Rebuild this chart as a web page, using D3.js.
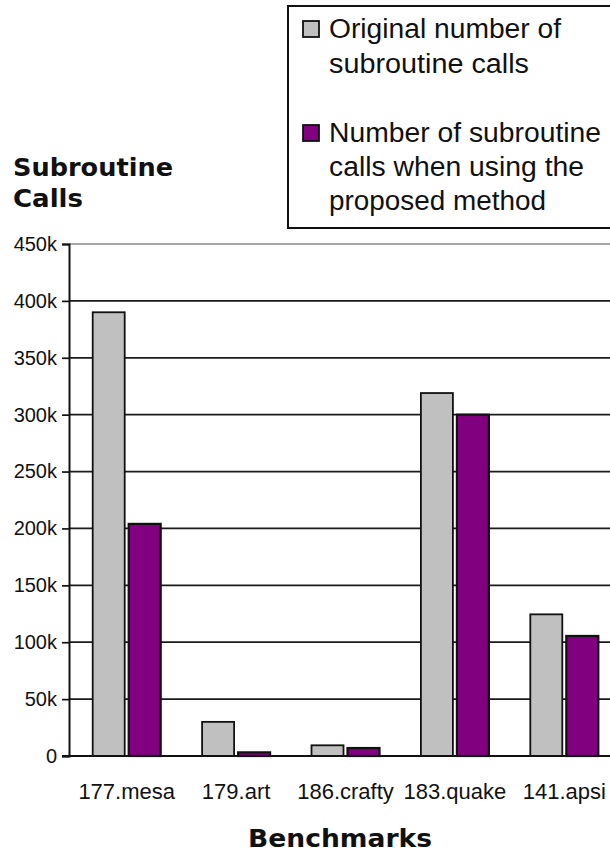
<!DOCTYPE html>
<html>
<head>
<meta charset="utf-8">
<script src="https://cdn.jsdelivr.net/npm/d3@7"></script>
<style>
  html, body { margin: 0; padding: 0; background: #fff; }
  svg { display: block; font-family: "Liberation Sans", Arial, sans-serif; }
</style>
</head>
<body>
<svg id="chart" width="610" height="853"></svg>
<script>
const categories = ["177.mesa", "179.art", "186.crafty", "183.quake", "141.apsi"];
const originalCalls = [390000, 30000, 9400, 319000, 124500];
const proposedCalls = [204000, 3200, 7000, 300000, 105500];
const seriesNames = ["Original number of subroutine calls", "Number of subroutine calls when using the proposed method"];
const legendLines = [["Original number of", "subroutine calls"], ["Number of subroutine", "calls when using the", "proposed method"]];
const yTicks = [0, 50000, 100000, 150000, 200000, 250000, 300000, 350000, 400000, 450000];
const seriesColors = ["#c0c0c0", "#800080"];

const svg = d3.select("#chart");

const x = d3.scaleBand().domain(categories).range([72, 72 + 5 * 109.4]).padding(0);
const y = d3.scaleLinear().domain([0, 450000]).range([756, 244]);
const axisX = 69;

// gridlines
svg.append("g").selectAll("line").data(yTicks.filter(d => d > 0)).join("line")
  .attr("x1", axisX).attr("x2", 612)
  .attr("y1", d => y(d)).attr("y2", d => y(d))
  .attr("stroke", d => d === 450000 ? "#8a8a8a" : "#1a1a1a")
  .attr("stroke-width", 1.7);

// y axis
const yAxis = d3.axisLeft(y).tickValues(yTicks)
  .tickFormat(d => d === 0 ? "0" : (d / 1000) + "k")
  .tickSize(7).tickPadding(5);
const gy = svg.append("g").attr("transform", `translate(${axisX},0)`).call(yAxis);
gy.select(".domain").attr("stroke", "#111").attr("stroke-width", 2);
gy.selectAll(".tick line").attr("stroke", "#111").attr("stroke-width", 1.7);
gy.selectAll(".tick text").attr("font-size", 20).attr("fill", "#111")
  .attr("font-family", "'Liberation Sans', Arial, sans-serif");

// bars
const data = categories.map((c, i) => ({ c, vals: [originalCalls[i], proposedCalls[i]] }));
const barW = 32;
const g = svg.append("g");
data.forEach(d => {
  const cx = x(d.c) + x.bandwidth() / 2;
  d.vals.forEach((v, s) => {
    const bx = s === 0 ? cx - 2 - barW : cx + 2;
    g.append("rect")
      .attr("x", bx).attr("width", barW)
      .attr("y", y(v)).attr("height", y(0) - y(v))
      .attr("fill", seriesColors[s])
      .attr("stroke", "#111").attr("stroke-width", s === 0 ? 1.8 : 2.2);
  });
});

// x axis
svg.append("line").attr("x1", axisX - 7).attr("x2", 612)
  .attr("y1", y(0)).attr("y2", y(0)).attr("stroke", "#111").attr("stroke-width", 2);
svg.append("g").selectAll("text").data(categories).join("text")
  .attr("x", d => x(d) + x.bandwidth() / 2)
  .attr("y", 799)
  .attr("text-anchor", "middle")
  .attr("font-size", 22).attr("fill", "#111")
  .text(d => d);

// axis titles
const boldFont = "'DejaVu Sans', Verdana, sans-serif";
svg.append("text").attr("x", 13).attr("y", 176)
  .attr("font-family", boldFont)
  .attr("font-size", 25).attr("font-weight", "bold").attr("fill", "#111")
  .attr("textLength", 160).attr("lengthAdjust", "spacingAndGlyphs").text("Subroutine");
svg.append("text").attr("x", 13).attr("y", 207)
  .attr("font-family", boldFont)
  .attr("font-size", 25).attr("font-weight", "bold").attr("fill", "#111")
  .attr("textLength", 70).attr("lengthAdjust", "spacingAndGlyphs").text("Calls");
svg.append("text").attr("x", 248).attr("y", 847)
  .attr("font-family", boldFont)
  .attr("font-size", 25).attr("font-weight", "bold").attr("fill", "#111")
  .attr("textLength", 184).attr("lengthAdjust", "spacingAndGlyphs").text("Benchmarks");

// legend
const lg = svg.append("g");
lg.append("rect").attr("x", 288).attr("y", 6).attr("width", 360).attr("height", 222)
  .attr("fill", "#fff").attr("stroke", "#111").attr("stroke-width", 2);
const legendBaselines = [[38, 73], [142, 176, 210]];
const legendWidths = [[232, 200], [272, 255, 217]];
legendLines.forEach((lines, s) => {
  const b0 = legendBaselines[s][0];
  lg.append("rect").attr("x", 303).attr("y", b0 - 17).attr("width", 16).attr("height", 16)
    .attr("fill", seriesColors[s]).attr("stroke", "#111").attr("stroke-width", 1.8)
    .append("title").text(seriesNames[s]);
  lines.forEach((t, k) => {
    lg.append("text").attr("x", 329).attr("y", legendBaselines[s][k])
      .attr("font-size", 27).attr("fill", "#111")
      .attr("textLength", legendWidths[s][k]).attr("lengthAdjust", "spacingAndGlyphs")
      .text(t);
  });
});
</script>
</body>
</html>
